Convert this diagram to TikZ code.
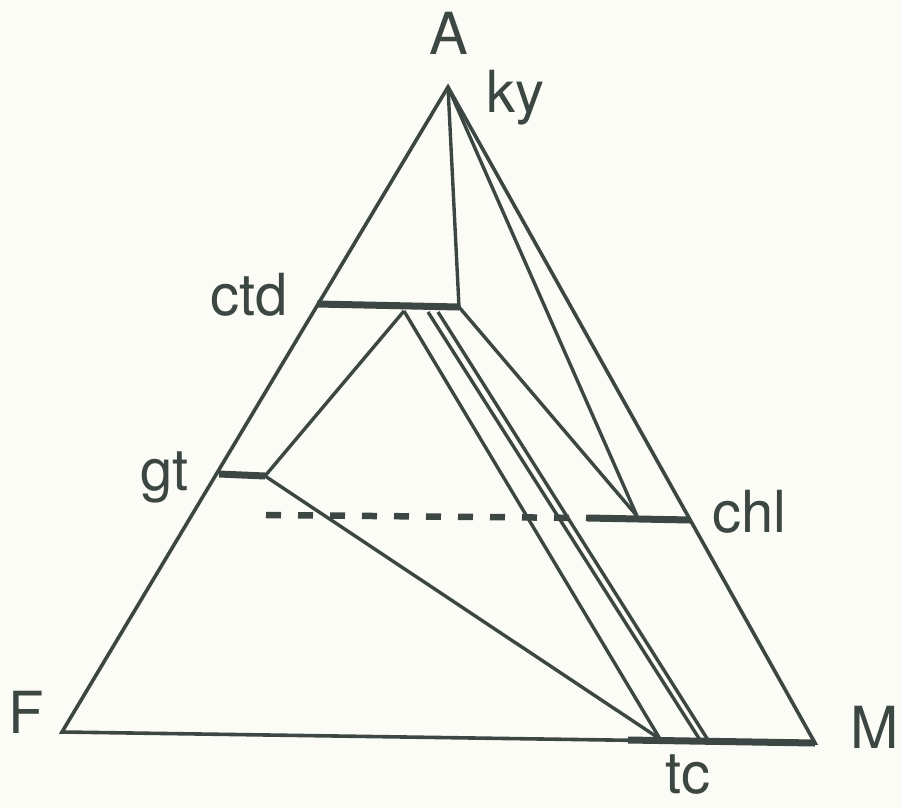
\documentclass[tikz,border=0pt]{standalone}
\usepackage{fontspec}
\setmainfont{TeX Gyre Heros}
\usetikzlibrary{positioning}
\definecolor{ink}{HTML}{3C4642}
\definecolor{paper}{HTML}{FCFCF7}

\begin{document}
\begin{tikzpicture}[
    x=1pt, y=-1pt,
    edge/.style={draw=ink, line width=3.6pt, line join=miter},
    tie/.style={draw=ink, line width=3.4pt},
    bar/.style={draw=ink, line width=7pt},
    gapbar/.style={draw=ink, line width=6.5pt, dash pattern=on 15pt off 17pt},
    lbl/.style={text=ink, font=\fontsize{58}{60}\selectfont, inner sep=0pt, anchor=base west}
]
\fill[paper] (0,0) rectangle (901,808);
\useasboundingbox (0,0) rectangle (901,808);

% corners of the triangle
\coordinate (A) at (448,87);
\coordinate (F) at (62,732);
\coordinate (M) at (815,743);

% phase bars
\coordinate (ctdL) at (317,304);
\coordinate (ctdR) at (459,307);
\coordinate (gtL) at (219,474);
\coordinate (gtR) at (265,476);
\coordinate (chlL) at (588,518);
\coordinate (chlR) at (690,520);
\coordinate (chlP) at (637,516);
\coordinate (dashL) at (266,515);
\coordinate (tcL) at (628,740);

% tie points
\coordinate (p1) at (404,311);
\coordinate (p2) at (428,312);
\coordinate (p3) at (438,312);
\coordinate (tc1) at (660,739);
\coordinate (tc2) at (700,740);
\coordinate (tc3) at (708,740);

\draw[edge] (A) -- (F) -- (M) -- cycle;

\draw[tie] (A) -- (ctdR);
\draw[tie] (A) -- (chlP);
\draw[tie] (ctdR) -- (chlP);
\draw[tie] (gtR) -- (p1);
\draw[tie] (gtR) -- (tc1);
\draw[tie] (p1) -- (tc1);
\draw[tie] (p2) -- (tc2);
\draw[tie] (p3) -- (tc3);

\draw[bar] (ctdL) -- (ctdR);
\draw[bar] (gtL) -- (gtR);
\draw[bar] (chlL) -- (chlR);
\draw[bar] (tcL) -- (M);
\draw[gapbar] (dashL) -- (chlL);

\node[lbl] (lA) at (429,55) {A};
\node[lbl] (lky) at (486,112) {ky};
\node[lbl] (lctd) at (210,315) {ctd};
\node[lbl] (lgt) at (140,490) {gt};
\node[lbl] (lchl) at (712,532) {chl};
\node[lbl] (ltc) at (665,793) {tc};
\node[lbl] (lM) at (850,748) {M};
\node[lbl] (lF) at (8,733) {F};
\end{tikzpicture}
\end{document}
